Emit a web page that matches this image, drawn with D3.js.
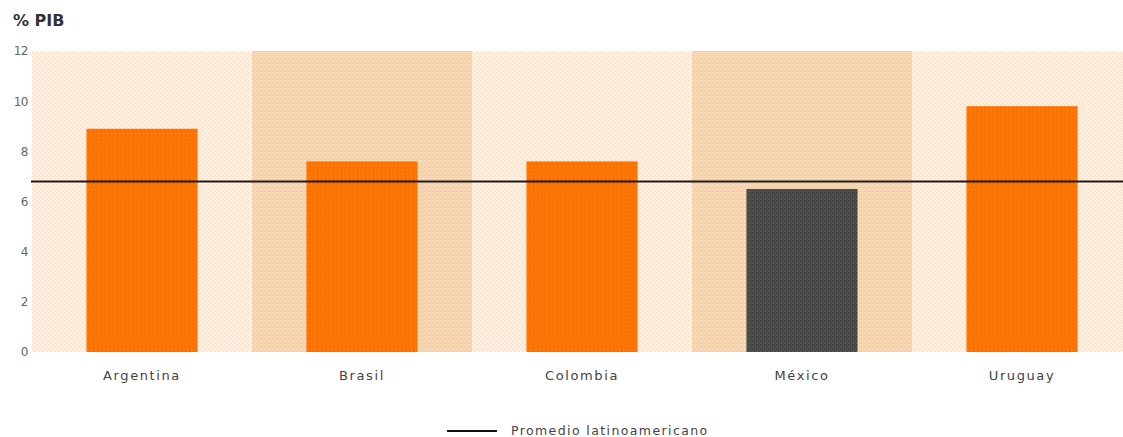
<!DOCTYPE html>
<html><head><meta charset="utf-8">
<script src="https://cdn.jsdelivr.net/npm/d3@7"></script>
<style>body{margin:0;background:#fff}svg{display:block}</style>
</head><body>
<script>
const categories = ["Argentina","Brasil","Colombia","México","Uruguay"];
const values = [8.9, 7.6, 7.6, 6.5, 9.8];
const highlight = ["México"];
const average = 6.8;
const yTicks = [0,2,4,6,8,10,12];
const title = "% PIB";
const legendLabel = "Promedio latinoamericano";

const W = 1123, H = 437;
const svg = d3.select("body").append("svg").attr("width", W).attr("height", H);
const defs = svg.append("defs");

function pat(id, base, dot, grid) {
  const p = defs.append("pattern").attr("id", id).attr("patternUnits","userSpaceOnUse")
    .attr("width", 4).attr("height", 4);
  p.append("rect").attr("width",4).attr("height",4).attr("fill", base);
  p.append("rect").attr("x",0).attr("y",0).attr("width",1).attr("height",1).attr("fill",dot);
  p.append("rect").attr("x",2).attr("y",2).attr("width",1).attr("height",1).attr("fill",dot);
  if (grid) p.append("rect").attr("x",1).attr("y",3).attr("width",1).attr("height",1).attr("fill",grid);
}
pat("lightBand", "#fff5da", "#fbcfc6", null);
pat("darkBand", "#fdd0b2", "#fee6bd", "#e2bfa8");
pat("orangeBar", "#ff7800", "#f56c00", "#c06a28");
pat("greyBar", "#4c4c4c", "#3a3a3a", "#5e5e5e");

const x = d3.scaleBand().domain(categories).range([32, 1132]).paddingInner(0).paddingOuter(0);
const y = d3.scaleLinear().domain([0, 12]).range([352, 51]);

// bands
svg.append("g").selectAll("rect").data(categories).join("rect")
  .attr("x", d => x(d)).attr("y", y(12))
  .attr("width", x.bandwidth()).attr("height", y(0) - y(12))
  .attr("fill", (d,i) => i % 2 ? "url(#darkBand)" : "url(#lightBand)");

// bars
const bw = x.bandwidth() * 0.505;
svg.append("g").selectAll("rect").data(categories).join("rect")
  .attr("x", d => x(d) + (x.bandwidth() - bw) / 2)
  .attr("y", (d,i) => y(values[i]))
  .attr("width", bw)
  .attr("height", (d,i) => y(0) - y(values[i]))
  .attr("fill", d => highlight.includes(d) ? "url(#greyBar)" : "url(#orangeBar)");

// average line
svg.append("line").attr("x1", 31).attr("x2", W)
  .attr("y1", y(average)).attr("y2", y(average))
  .attr("stroke", "#1a1a1a").attr("stroke-width", 2);

// y axis
const yAxis = d3.axisLeft(y).tickValues(yTicks).tickSize(0).tickPadding(0);
const gy = svg.append("g").attr("transform", "translate(28,0)").call(yAxis);
gy.select(".domain").remove();
gy.selectAll("text").attr("font-family", "DejaVu Sans").attr("font-size", 12)
  .attr("fill", "#666").attr("letter-spacing", "-0.5px");

// x axis
const xAxis = d3.axisBottom(x).tickSize(0).tickPadding(0);
const gx = svg.append("g").attr("transform", "translate(0,371)").call(xAxis);
gx.select(".domain").remove();
gx.selectAll("text").attr("font-family", "DejaVu Sans").attr("font-size", 13)
  .attr("fill", "#444").attr("letter-spacing", "1.6px");

// title
svg.append("text").attr("x", 13).attr("y", 26).text(title)
  .attr("font-family", "DejaVu Sans").attr("font-weight", "bold").attr("font-size", 16)
  .attr("fill", "#333");

// legend
svg.append("line").attr("x1", 447).attr("x2", 497).attr("y1", 431).attr("y2", 431)
  .attr("stroke", "#111").attr("stroke-width", 2);
svg.append("text").attr("x", 511).attr("y", 434.5).text(legendLabel)
  .attr("font-family", "DejaVu Sans").attr("font-size", 12.5).attr("fill", "#444")
  .attr("letter-spacing", "1.4px");
</script>
</body></html>
